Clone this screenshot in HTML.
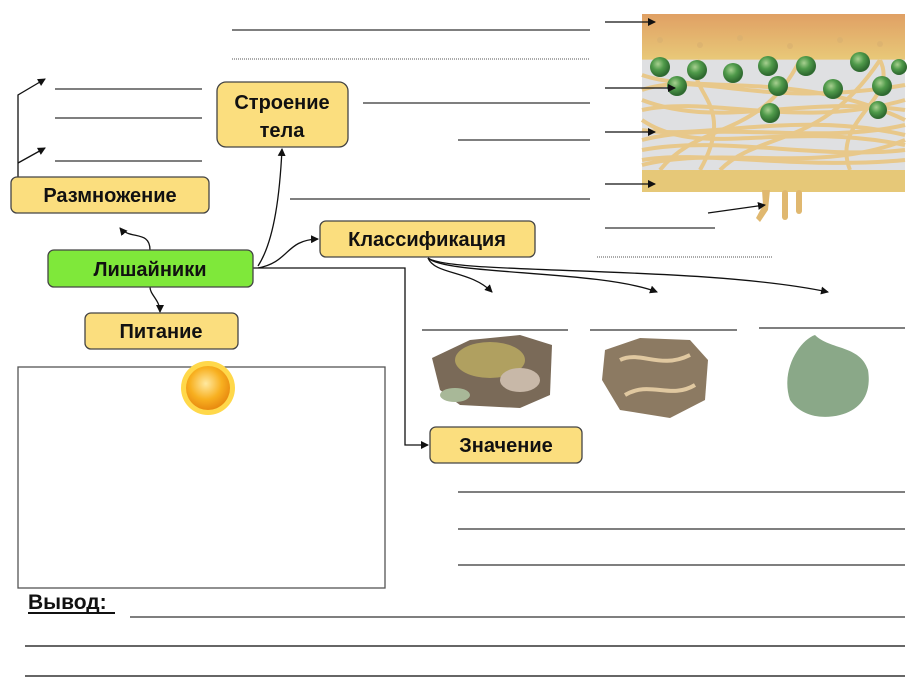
<!DOCTYPE html>
<html><head><meta charset="utf-8"><style>
html,body{margin:0;padding:0;background:#fff}
svg{display:block}
text{font-family:"Liberation Sans",sans-serif;font-weight:bold}
</style></head><body>
<svg width="921" height="678" viewBox="0 0 921 678" xmlns="http://www.w3.org/2000/svg">
<defs>
<marker id="a" markerWidth="8" markerHeight="8" refX="7" refY="4" orient="auto" markerUnits="userSpaceOnUse"><path d="M0,0 L8,4 L0,8 z" fill="#111"/></marker>
<linearGradient id="top" x1="0" y1="0" x2="0" y2="1"><stop offset="0" stop-color="#e0a064"/><stop offset="1" stop-color="#e8c878"/></linearGradient>
<radialGradient id="g" cx="0.4" cy="0.35" r="0.6"><stop offset="0" stop-color="#a8d090"/><stop offset="0.5" stop-color="#4f9a4a"/><stop offset="1" stop-color="#2f6a30"/></radialGradient>
<radialGradient id="sun" cx="0.45" cy="0.4" r="0.6"><stop offset="0" stop-color="#ffe9a0"/><stop offset="0.6" stop-color="#f8b020"/><stop offset="1" stop-color="#e88a10"/></radialGradient>
</defs>
<!-- lichen section -->
<rect x="642" y="14" width="263" height="178" fill="#e6cfa0"/>
<rect x="642" y="14" width="263" height="45" fill="url(#top)"/>
<rect x="642" y="60" width="263" height="110" fill="#dfe0e2"/>
<g stroke="#e8c88a" stroke-width="4" fill="none">
<path d="M642,90 C700,70 760,110 905,85"/><path d="M642,110 C710,95 800,130 905,100"/><path d="M642,130 C700,140 800,110 905,135"/><path d="M642,150 C720,135 820,160 905,150"/><path d="M642,160 C700,150 800,170 905,160"/><path d="M642,75 C700,95 800,70 905,120"/><path d="M660,170 C700,120 760,140 800,60"/><path d="M720,170 C760,130 820,150 880,60"/><path d="M642,120 C700,160 780,120 905,145"/>
<path d="M642,140 C720,120 820,145 905,125"/><path d="M642,100 C720,130 800,95 905,110"/><path d="M700,170 C740,100 680,90 700,60"/><path d="M850,170 C830,120 900,100 880,60"/><path d="M642,165 C720,145 820,175 905,140"/>
</g>
<rect x="642" y="170" width="263" height="22" fill="#e6c878"/>
<g fill="#e0b870">
<path d="M762,190 L770,190 L768,210 L760,222 L756,218 L763,205 Z"/>
<rect x="782" y="190" width="6" height="30" rx="3"/>
<rect x="796" y="190" width="6" height="24" rx="3"/>
</g>
<g fill="#d8b070" opacity="0.6">
<circle cx="660" cy="40" r="3"/><circle cx="700" cy="45" r="3"/><circle cx="740" cy="38" r="3"/><circle cx="790" cy="46" r="3"/><circle cx="840" cy="40" r="3"/><circle cx="880" cy="44" r="3"/>
</g>
<g fill="url(#g)">
<circle cx="660" cy="67" r="10"/><circle cx="697" cy="70" r="10"/><circle cx="733" cy="73" r="10"/><circle cx="768" cy="66" r="10"/><circle cx="806" cy="66" r="10"/><circle cx="860" cy="62" r="10"/><circle cx="899" cy="67" r="8"/>
<circle cx="677" cy="86" r="10"/><circle cx="778" cy="86" r="10"/><circle cx="833" cy="89" r="10"/><circle cx="882" cy="86" r="10"/><circle cx="770" cy="113" r="10"/><circle cx="878" cy="110" r="9"/>
</g>
<g stroke="#333" stroke-width="1.3" fill="none">
<line x1="232" y1="30" x2="590" y2="30"/>
<line x1="232" y1="59" x2="590" y2="59" stroke-dasharray="1,1" stroke="#777"/>
<line x1="55" y1="89" x2="202" y2="89"/><line x1="55" y1="118" x2="202" y2="118"/><line x1="55" y1="161" x2="202" y2="161"/>
<line x1="363" y1="103" x2="590" y2="103"/><line x1="458" y1="140" x2="590" y2="140"/><line x1="290" y1="199" x2="590" y2="199"/>
<line x1="605" y1="228" x2="715" y2="228"/>
<line x1="597" y1="257" x2="773" y2="257" stroke-dasharray="1,1" stroke="#777"/>
<line x1="422" y1="330" x2="568" y2="330"/><line x1="590" y1="330" x2="737" y2="330"/><line x1="759" y1="328" x2="905" y2="328"/>
<line x1="458" y1="492" x2="905" y2="492"/><line x1="458" y1="529" x2="905" y2="529"/><line x1="458" y1="565" x2="905" y2="565"/>
<line x1="130" y1="617" x2="905" y2="617"/><line x1="25" y1="646" x2="905" y2="646" stroke="#666" stroke-width="2"/><line x1="25" y1="676" x2="905" y2="676" stroke="#666" stroke-width="2"/>
<rect x="18" y="367" width="367" height="221" stroke="#555"/>
</g>
<g stroke="#111" stroke-width="1.3" fill="none" marker-end="url(#a)">
<path d="M18,177 L18,95 L45,79"/>
<path d="M18,163 L45,148"/>
<path d="M258,266 C275,240 280,190 282,149"/>
<path d="M258,268 C290,262 285,240 318,239"/>
<path d="M150,250 C150,230 130,240 120,228"/>
<path d="M150,287 C150,295 160,300 160,312"/>
<path d="M253,268 L405,268 L405,445 L428,445"/>
<path d="M428,258 C435,275 470,270 492,292"/>
<path d="M428,258 C445,275 600,270 657,292"/>
<path d="M428,258 C450,275 700,265 828,292"/>
<path d="M605,22 L655,22"/><path d="M605,88 L675,88"/><path d="M605,132 L655,132"/><path d="M605,184 L655,184"/><path d="M708,213 L765,205"/>
</g>
<!-- lichen photos -->
<path d="M432,358 L470,340 L520,335 L552,345 L550,395 L520,408 L460,405 L440,390 Z" fill="#7a6a58"/>
<ellipse cx="490" cy="360" rx="35" ry="18" fill="#b0a060"/><ellipse cx="520" cy="380" rx="20" ry="12" fill="#c8b8a8"/><ellipse cx="455" cy="395" rx="15" ry="7" fill="#a8b898"/>
<path d="M605,350 L640,338 L690,340 L708,360 L705,400 L670,418 L620,410 L602,380 Z" fill="#8c7a62"/>
<path d="M620,360 C640,350 660,370 690,355 M625,395 C650,380 670,400 695,385" stroke="#e0c8a0" stroke-width="4" fill="none"/>
<path d="M790,400 C780,370 800,340 815,335 C830,350 860,345 868,370 C872,395 860,410 840,415 C820,420 800,415 790,400 Z" fill="#8aa888"/>
<!-- sun -->
<circle cx="208" cy="388" r="27" fill="#ffd84a"/>
<circle cx="208" cy="388" r="22" fill="url(#sun)"/>
<!-- boxes -->
<g stroke="#444" stroke-width="1.3">
<rect x="217" y="82" width="131" height="65" rx="9" fill="#fbde7e"/>
<rect x="11" y="177" width="198" height="36" rx="6" fill="#fbde7e"/>
<rect x="48" y="250" width="205" height="37" rx="6" fill="#7fe83a"/>
<rect x="320" y="221" width="215" height="36" rx="6" fill="#fbde7e"/>
<rect x="85" y="313" width="153" height="36" rx="6" fill="#fbde7e"/>
<rect x="430" y="427" width="152" height="36" rx="6" fill="#fbde7e"/>
</g>
<g font-size="20" fill="#111" text-anchor="middle">
<text x="282" y="109">Строение</text><text x="282" y="137">тела</text>
<text x="110" y="202">Размножение</text>
<text x="150" y="276">Лишайники</text>
<text x="427" y="246">Классификация</text>
<text x="161" y="338">Питание</text>
<text x="506" y="452">Значение</text>
</g>
<text x="28" y="609" font-size="21" fill="#111">Вывод:</text>
<line x1="28" y1="613" x2="115" y2="613" stroke="#111" stroke-width="2"/>
</svg>
</body></html>
